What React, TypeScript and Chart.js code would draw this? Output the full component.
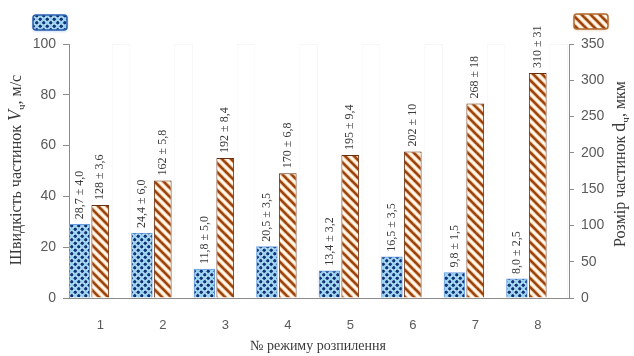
import React, { useEffect, useRef } from 'react';
import { Chart, registerables } from 'chart.js';

Chart.register(...registerables);

const categories = ['1', '2', '3', '4', '5', '6', '7', '8'];
const velocity = [29.0, 25.6, 11.4, 20.2, 10.7, 16.2, 10.0, 7.5];
const particleSize = [128, 162, 193, 172, 197, 202, 268, 310];
const backdrop = [100, 100, 100, 100, 100, 100, 100, 100];
const velocityLabels = ['28,7 ± 4,0', '24,4 ± 6,0', '11,8 ± 5,0', '20,5 ± 3,5', '13,4 ± 3,2', '16,5 ± 3,5', '9,8 ± 1,5', '8,0 ± 2,5'];
const sizeLabels = ['128 ± 3,6', '162 ± 5,8', '192 ± 8,4', '170 ± 6,8', '195 ± 9,4', '202 ± 10', '268 ± 18', '310 ± 31'];

const SERIF = '"Liberation Serif", "DejaVu Serif", serif';
const SANS = '"Liberation Sans", Arial, sans-serif';

function makeDotsPattern(ctx: CanvasRenderingContext2D) {
  const s = 7;
  const h = s / 2;
  const c = document.createElement('canvas');
  c.width = s; c.height = s;
  const g = c.getContext('2d')!;
  g.fillStyle = '#e2f5fd';
  g.fillRect(0, 0, s, s);
  g.fillStyle = '#9ad6f3';
  g.fillRect(h, 0, h, h);
  g.fillRect(0, h, h, h);
  g.fillStyle = '#0e3478';
  g.beginPath(); g.arc(h / 2, h / 2, 1.7, 0, Math.PI * 2); g.fill();
  g.beginPath(); g.arc(h + h / 2, h + h / 2, 1.7, 0, Math.PI * 2); g.fill();
  return ctx.createPattern(c, 'repeat')!;
}

function makeStripePattern(ctx: CanvasRenderingContext2D) {
  const s = 9;
  const c = document.createElement('canvas');
  c.width = s; c.height = s;
  const g = c.getContext('2d')!;
  g.fillStyle = '#fffaf2';
  g.fillRect(0, 0, s, s);
  const draw = (w: number, col: string) => {
    g.strokeStyle = col;
    g.lineWidth = w;
    for (const off of [-s, 0, s]) {
      g.beginPath();
      g.moveTo(off - 1, -1);
      g.lineTo(off + s + 1, s + 1);
      g.stroke();
    }
  };
  draw(4.0, '#efb27e');
  draw(2.2, '#94400f');
  return ctx.createPattern(c, 'repeat')!;
}

type Run = { t: string; font: string; dy?: number };

function drawRuns(ctx: CanvasRenderingContext2D, runs: Run[], cx: number, cy: number, color: string) {
  ctx.save();
  ctx.translate(cx, cy);
  ctx.rotate(-Math.PI / 2);
  ctx.fillStyle = color;
  ctx.textBaseline = 'alphabetic';
  ctx.textAlign = 'left';
  let total = 0;
  const widths = runs.map(r => { ctx.font = r.font; const w = ctx.measureText(r.t).width; total += w; return w; });
  let x = -total / 2;
  runs.forEach((r, i) => {
    ctx.font = r.font;
    ctx.fillText(r.t, x, 5 + (r.dy || 0));
    x += widths[i];
  });
  ctx.restore();
}

function roundRect(ctx: CanvasRenderingContext2D, x: number, y: number, w: number, h: number, r: number) {
  ctx.beginPath();
  ctx.moveTo(x + r, y);
  ctx.lineTo(x + w - r, y);
  ctx.quadraticCurveTo(x + w, y, x + w, y + r);
  ctx.lineTo(x + w, y + h - r);
  ctx.quadraticCurveTo(x + w, y + h, x + w - r, y + h);
  ctx.lineTo(x + r, y + h);
  ctx.quadraticCurveTo(x, y + h, x, y + h - r);
  ctx.lineTo(x, y + r);
  ctx.quadraticCurveTo(x, y, x + r, y);
  ctx.closePath();
}

export default function App() {
  const ref = useRef<HTMLCanvasElement>(null);

  useEffect(() => {
    const canvas = ref.current!;
    const ctx = canvas.getContext('2d')!;
    const dots = makeDotsPattern(ctx);
    const stripes = makeStripePattern(ctx);

    const extras = {
      id: 'extras',
      afterDatasetsDraw(chart: any) {
        const c: CanvasRenderingContext2D = chart.ctx;
        const sets: [number, string[]][] = [[0, velocityLabels], [1, sizeLabels]];
        for (const [di, labels] of sets) {
          const meta = chart.getDatasetMeta(di);
          meta.data.forEach((el: any, i: number) => {
            c.save();
            c.translate(el.x, el.y - 5);
            c.rotate(-Math.PI / 2);
            c.font = `12px ${SERIF}`;
            c.fillStyle = '#3a3a3a';
            c.textAlign = 'left';
            c.textBaseline = 'middle';
            c.fillText(labels[i], 0, 0);
            c.restore();
          });
        }
        drawRuns(c, [
          { t: 'Швидкість частинок ', font: `16px ${SERIF}` },
          { t: 'V', font: `italic 18px ${SERIF}` },
          { t: 'ч', font: `11px ${SERIF}`, dy: 4 },
          { t: ', м/с', font: `16px ${SERIF}` },
        ], 16, 170, '#3a3a3a');
        drawRuns(c, [
          { t: 'Розмір частинок ', font: `16px ${SERIF}` },
          { t: 'd', font: `18px ${SERIF}` },
          { t: 'ч', font: `11px ${SERIF}`, dy: 4 },
          { t: ', мкм', font: `16px ${SERIF}` },
        ], 620, 164, '#3a3a3a');
        c.save();
        c.font = `14px ${SERIF}`;
        c.fillStyle = '#3a3a3a';
        c.textAlign = 'center';
        c.textBaseline = 'middle';
        c.fillText('№ режиму розпилення', 318, 346);
        c.restore();
        const sw: [number, number, CanvasPattern, string, string][] = [
          [33, 15, dots, '#2b5fae', '#a9c4e8'],
          [574, 14, stripes, '#b06a30', '#e8c8a8'],
        ];
        for (const [x, y, p, border, shadow] of sw) {
          c.save();
          c.shadowColor = shadow;
          c.shadowBlur = 3;
          c.shadowOffsetY = 1;
          roundRect(c, x, y, 34, 15, 3);
          c.fillStyle = p;
          c.fill();
          c.restore();
          c.save();
          roundRect(c, x, y, 34, 15, 3);
          c.lineWidth = 1.5;
          c.strokeStyle = border;
          c.stroke();
          c.restore();
        }
      },
    };

    const chart = new Chart(ctx, {
      type: 'bar',
      data: {
        labels: categories,
        datasets: [
          {
            label: 'Vч',
            data: velocity,
            yAxisID: 'y',
            backgroundColor: dots,
            borderColor: '#6a9be0',
            borderWidth: 1,
            barPercentage: 1.0,
            categoryPercentage: 1.0,
          },
          {
            label: 'dч',
            data: particleSize,
            yAxisID: 'y1',
            backgroundColor: stripes,
            borderColor: '#6a2e10',
            borderWidth: 1,
            barPercentage: 0.85,
            categoryPercentage: 1.0,
          },
          {
            label: '',
            data: backdrop,
            yAxisID: 'y',
            backgroundColor: 'rgba(0,0,0,0)',
            borderColor: 'rgba(0,0,0,0.035)',
            borderWidth: 1,
            barPercentage: 0.9,
            categoryPercentage: 1.0,
          },
        ],
      },
      options: {
        responsive: false,
        animation: false,
        layout: { padding: { top: 44, left: 0, right: 0, bottom: 0 } },
        plugins: {
          legend: { display: false },
          tooltip: { enabled: false },
          title: { display: false },
        },
        scales: {
          x: {
            grid: { display: false },
            border: { display: true, color: '#8c8c8c', width: 1 },
            ticks: { font: { family: SANS, size: 13 }, color: '#595959', padding: 12 },
            afterFit: (s: any) => { s.height = 58; },
          },
          y: {
            position: 'left',
            min: 0,
            max: 100,
            ticks: { stepSize: 20, font: { family: SANS, size: 14 }, color: '#595959', padding: 7 },
            grid: { display: true, drawOnChartArea: false, tickLength: 6, color: '#8c8c8c' },
            border: { display: true, color: '#8c8c8c', width: 1 },
            afterFit: (s: any) => { s.width = 69; },
          },
          y1: {
            position: 'right',
            min: 0,
            max: 350,
            ticks: { stepSize: 50, font: { family: SANS, size: 14 }, color: '#595959', padding: 7 },
            grid: { display: true, drawOnChartArea: false, tickLength: 5, color: '#8c8c8c' },
            border: { display: true, color: '#8c8c8c', width: 1 },
            afterFit: (s: any) => { s.width = 65; },
          },
        },
      },
      plugins: [extras],
    } as any);

    return () => chart.destroy();
  }, []);

  return (
    <div style={{ position: 'fixed', left: 0, top: 0, width: 634, height: 356, background: '#ffffff' }}>
      <canvas ref={ref} width={634} height={356} style={{ width: 634, height: 356, display: 'block' }} />
    </div>
  );
}
